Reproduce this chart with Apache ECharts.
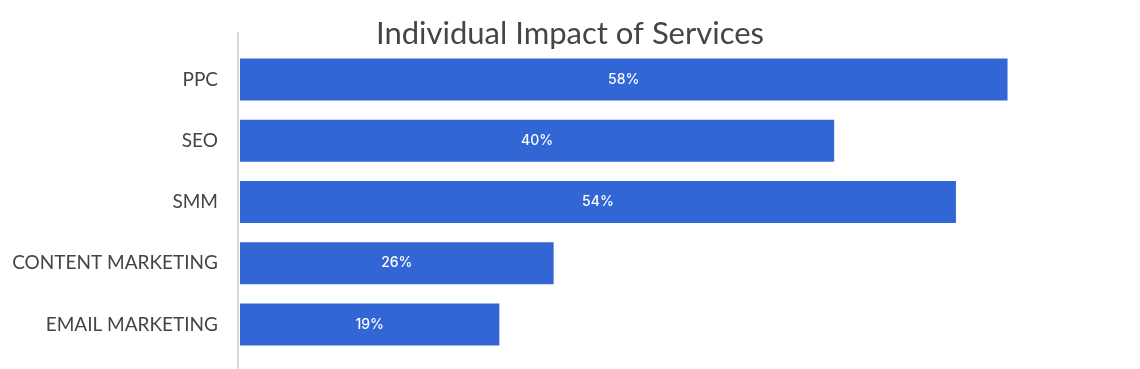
<!DOCTYPE html>
<html>
<head>
<meta charset="utf-8">
<script src="https://cdn.jsdelivr.net/npm/echarts@6/dist/echarts.min.js"></script>
<style>html,body{margin:0;padding:0;background:#fff;}#c{width:1140px;height:369px;}</style>
</head>
<body>
<div id="c"></div>
<script>
const categories = ['PPC', 'SEO', 'SMM', 'CONTENT MARKETING', 'EMAIL MARKETING'];
const barValues = [58, 44.9, 54.1, 23.7, 19.6];
const valueLabels = ['58%', '40%', '54%', '26%', '19%'];

const chart = echarts.init(document.getElementById('c'));
chart.setOption({
  animation: false,
  backgroundColor: '#ffffff',
  title: {
    text: 'Individual Impact of Services',
    left: 'center',
    top: 13,
    textStyle: { fontFamily: 'Lato', fontWeight: 'normal', fontSize: 31, color: '#454545' }
  },
  grid: [
    { left: 240, right: 106, top: 49, bottom: 14 },
    { left: 238, right: 106, top: 33, bottom: 0 }
  ],
  xAxis: [
    { gridIndex: 0, type: 'value', min: 0, max: 60, show: false },
    { gridIndex: 1, type: 'value', min: 0, max: 1, show: false }
  ],
  yAxis: [
    {
      gridIndex: 0, type: 'category', data: categories, inverse: true,
      axisLine: { show: false }, axisTick: { show: false },
      axisLabel: { margin: 22, fontFamily: 'Lato', fontSize: 19, color: '#444444' }
    },
    {
      gridIndex: 1, type: 'value', min: 0, max: 1,
      axisLine: { show: true, lineStyle: { color: '#d9d9d9', width: 2 } },
      axisTick: { show: false }, axisLabel: { show: false }, splitLine: { show: false }
    }
  ],
  series: [{
    type: 'bar',
    xAxisIndex: 0, yAxisIndex: 0,
    data: barValues,
    barWidth: 42,
    itemStyle: { color: '#3266d5' },
    label: {
      show: true, position: 'inside',
      formatter: p => valueLabels[p.dataIndex],
      color: '#ffffff', fontFamily: 'Inter', fontSize: 14, fontWeight: 500
    }
  }]
});
</script>
</body>
</html>
